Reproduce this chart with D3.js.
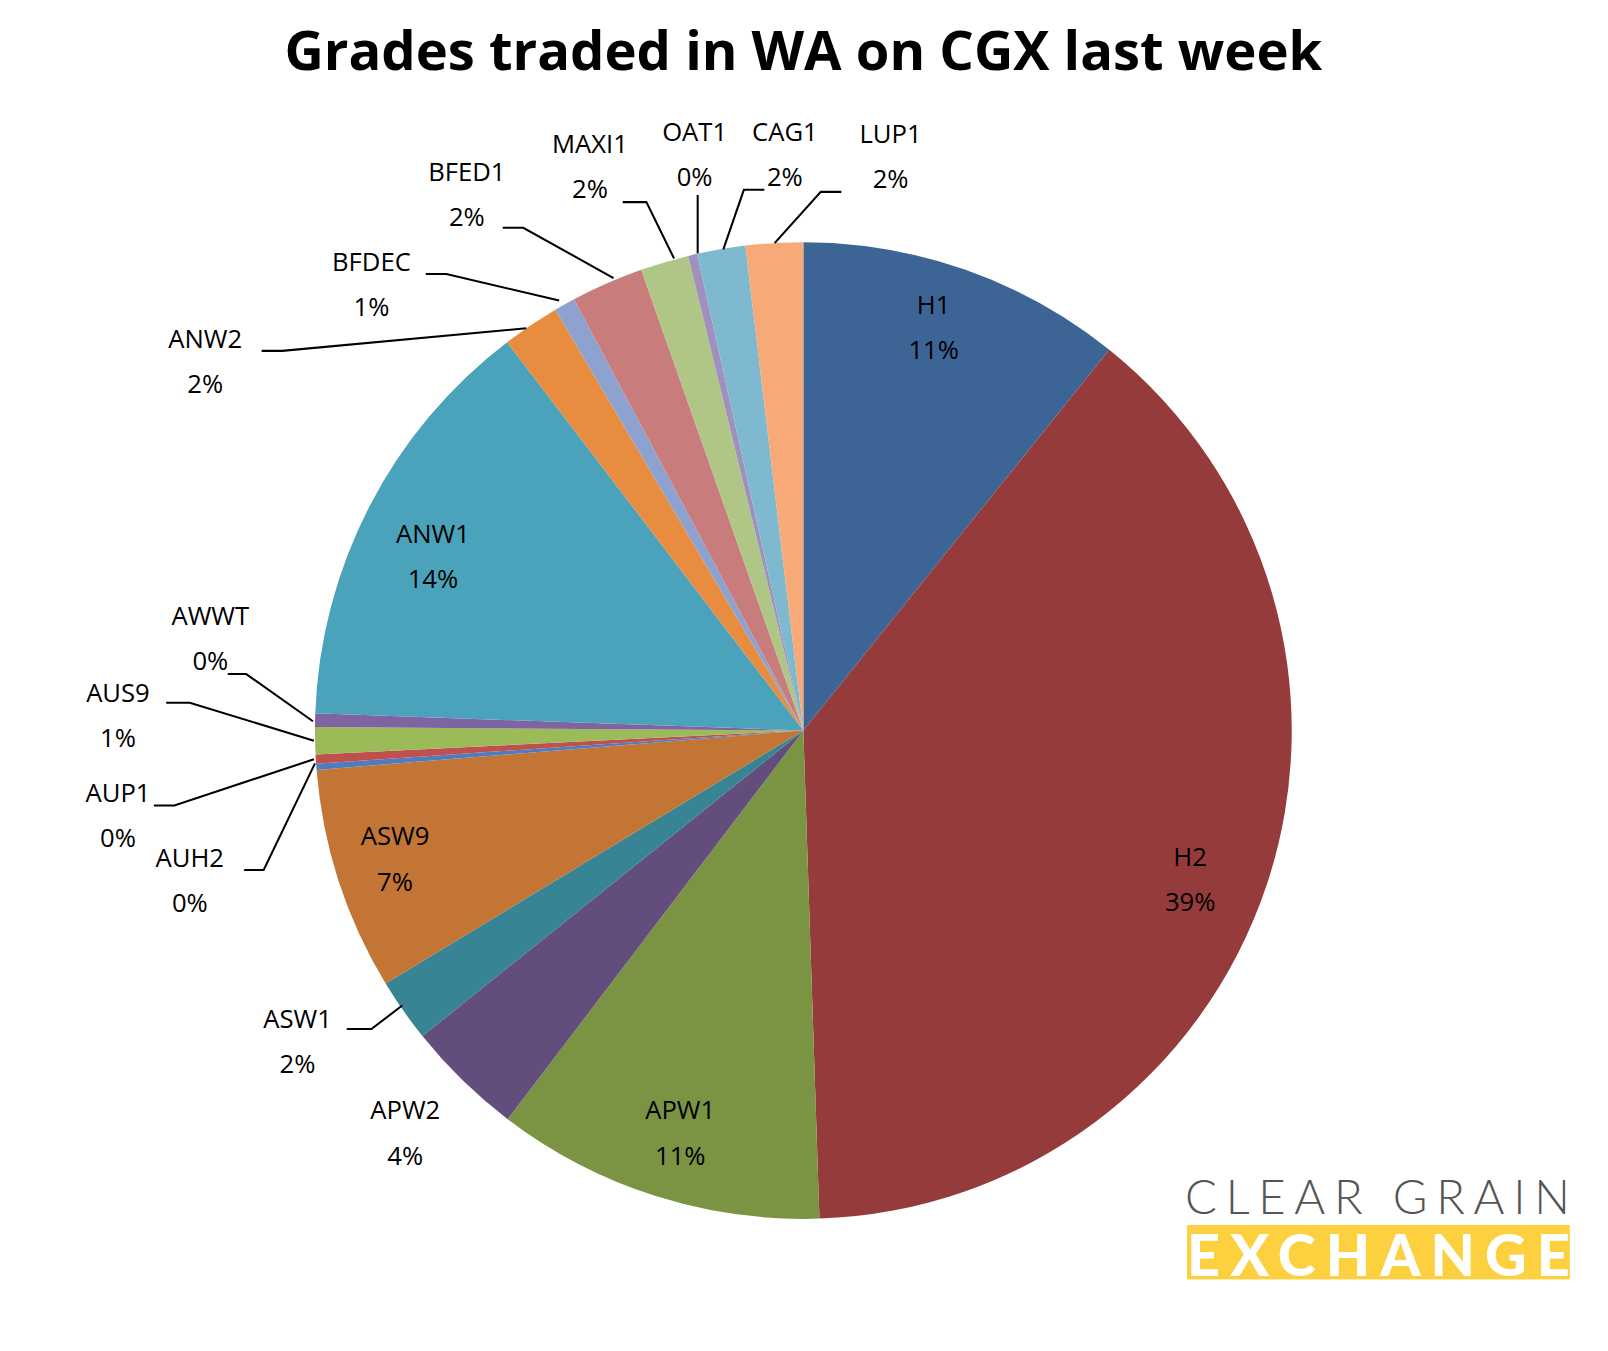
<!DOCTYPE html>
<html><head><meta charset="utf-8">
<script src="https://cdn.jsdelivr.net/npm/d3@7"></script>
<style>body{margin:0;background:#fff}text{font-family:"Open Sans",sans-serif}</style>
</head><body><div id="all"></div>
<script>
var grades = ["H1","H2","APW1","APW2","ASW1","ASW9","AUH2","AUP1","AUS9","AWWT","ANW1","ANW2","BFDEC","BFED1","MAXI1","OAT1","CAG1","LUP1"];
var shares = [10.8,38.8,10.9,3.9,2.1,7.4,0.2,0.3,0.9,0.45,14.1,1.9,0.7,2.4,1.6,0.3,1.6,1.9];
var colors = ["#3c6595","#953b3b","#7b9444","#634d7d","#368494","#c37535","#4f7bbf","#c0504d","#9bbb59","#8064a2","#4aa3bb","#e88d40","#8da2cf","#c97c7c","#afc686","#a090bd","#7fb9cf","#f7a978"];

// label layout: centre of label text, leader polylines for outside labels
var labelPos = {
  H1:[910,297], H2:[1160,835], APW1:[663,1082], ASW9:[385,815], ANW1:[422,520], APW2:[395,1082],
  ASW1:[290,993], AUH2:[185,836], AUP1:[115,773], AUS9:[115,675], AWWT:[205,600],
  ANW2:[200,330], BFDEC:[362,255], BFED1:[455,167], MAXI1:[575,140], OAT1:[677,128], CAG1:[765,128], LUP1:[868,130]
};
var leaders = {
  AWWT:[[222,657],[240,657],[305,703]], AUS9:[[162,685],[185,685],[306,722]],
  AUP1:[[150,785],[170,785],[306,740]], AUH2:[[238,848],[257,848],[307,744]],
  ASW1:[[338,1003],[362,1003],[392,980]], ANW2:[[255,342],[275,342],[513,320]],
  BFDEC:[[415,267],[435,267],[545,293]], BFED1:[[490,222],[510,222],[598,271]],
  MAXI1:[[607,197],[630,197],[657,252]], OAT1:[[680,190],[680,247]],
  CAG1:[[745,185],[725,185],[705,243]], LUP1:[[820,187],[800,187],[755,237]]
};

var W = 1608, H = 1351, cx = 783, cy = 712, R = 476, k = 1.026;
var svg = d3.select("#all").append("svg").attr("width", W).attr("height", H);
var root = svg.append("g").attr("transform","scale("+k+")");

root.append("text").attr("x", 783).attr("y", 68).attr("text-anchor","middle")
  .style("font-size","53px").style("font-weight","bold").text("Grades traded in WA on CGX last week");

var total = d3.sum(shares);
var pie = d3.pie().sort(null).value(function(d){return d;});
var arc = d3.arc().innerRadius(0).outerRadius(R);
var g = root.append("g").attr("transform","translate("+cx+","+cy+")");
g.selectAll("path").data(pie(shares)).enter().append("path")
  .attr("d", arc).attr("fill", function(d,i){return colors[i];});

var lg = root.append("g");
grades.forEach(function(name, i){
  if (leaders[name]) {
    lg.append("path").attr("d", d3.line()(leaders[name]))
      .attr("fill","none").attr("stroke","#000").attr("stroke-width",2);
  }
  var p = labelPos[name];
  var t = lg.append("text").attr("text-anchor","middle").style("font-size","25px").attr("fill","#000");
  t.append("tspan").attr("x", p[0]).attr("y", p[1] + 9).text(name);
  t.append("tspan").attr("x", p[0]).attr("y", p[1] + 53).text(Math.round(shares[i]/total*100) + "%");
});

// logo
var logo = root.append("g");
logo.append("text").attr("x", 1155).attr("y", 1183).attr("textLength", 375)
  .style("font-size","46px").style("font-family","Lato").style("font-weight","300").attr("fill","#555").text("CLEAR GRAIN");
logo.append("rect").attr("x",1157).attr("y",1194).attr("width",373).attr("height",53).attr("fill","#fcd03f");
logo.append("text").attr("x", 1157).attr("y", 1244).attr("textLength", 373)
  .style("font-size","56px").style("font-family","Lato").style("font-weight","900").attr("fill","#fff").text("EXCHANGE");
</script></body></html>
